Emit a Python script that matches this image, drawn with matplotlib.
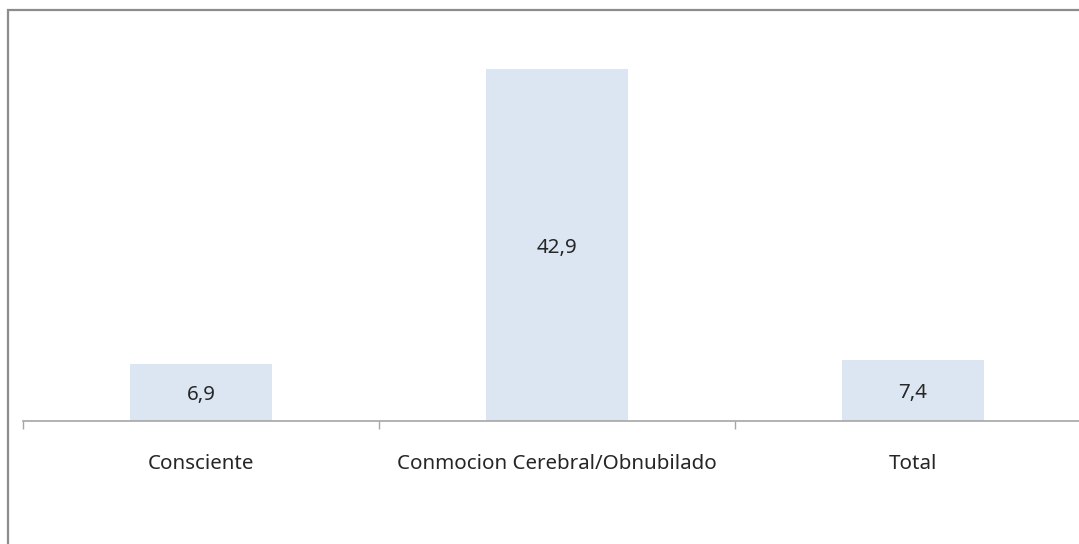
import matplotlib.pyplot as plt
from matplotlib.patches import Rectangle
import numpy as np

categories = ['Consciente', 'Conmocion Cerebral/Obnubilado', 'Total']
values = [6.9, 42.9, 7.4]
value_labels = ['6,9', '42,9', '7,4']

W, H = 1079, 544
fig = plt.figure(figsize=(W / 100, H / 100), dpi=100)
fig.patch.set_facecolor('white')

# outer chart frame (cropped at right and bottom)
fig.patches.append(Rectangle((8 / W, -0.1), 1.2, 1 - 10 / H + 0.1, transform=fig.transFigure,
                             fill=False, edgecolor='#8c8c8c', linewidth=1.6))

ax = fig.add_axes([23 / W, 123 / H, 1068 / W, 410 / H])
ax.set_facecolor('none')

font = 'Noto Sans'
fsize = 14.8

x = np.arange(len(categories))
ax.bar(x, values, width=0.4, color='#dce6f2', zorder=2)
for xi, v, lab in zip(x, values, value_labels):
    ax.text(xi, v / 2, lab, ha='center', va='center_baseline', fontsize=fsize,
            family=font, color='#262626', zorder=3)

ax.set_xlim(-0.5, len(categories) - 0.5)
ax.set_ylim(0, 50)
for s in ['top', 'right', 'left']:
    ax.spines[s].set_visible(False)
ax.spines['bottom'].set_color('#a6a6a6')
ax.spines['bottom'].set_linewidth(1.2)
ax.set_yticks([])
ax.set_xticks(np.arange(len(categories) + 1) - 0.5, minor=True)
ax.set_xticks(x)
ax.set_xticklabels(categories, fontsize=fsize, family=font, color='#262626')
ax.tick_params(axis='x', which='major', length=0, pad=24)
ax.tick_params(axis='x', which='minor', length=6, color='#a6a6a6', width=1)

plt.savefig('out.png', dpi=100)
